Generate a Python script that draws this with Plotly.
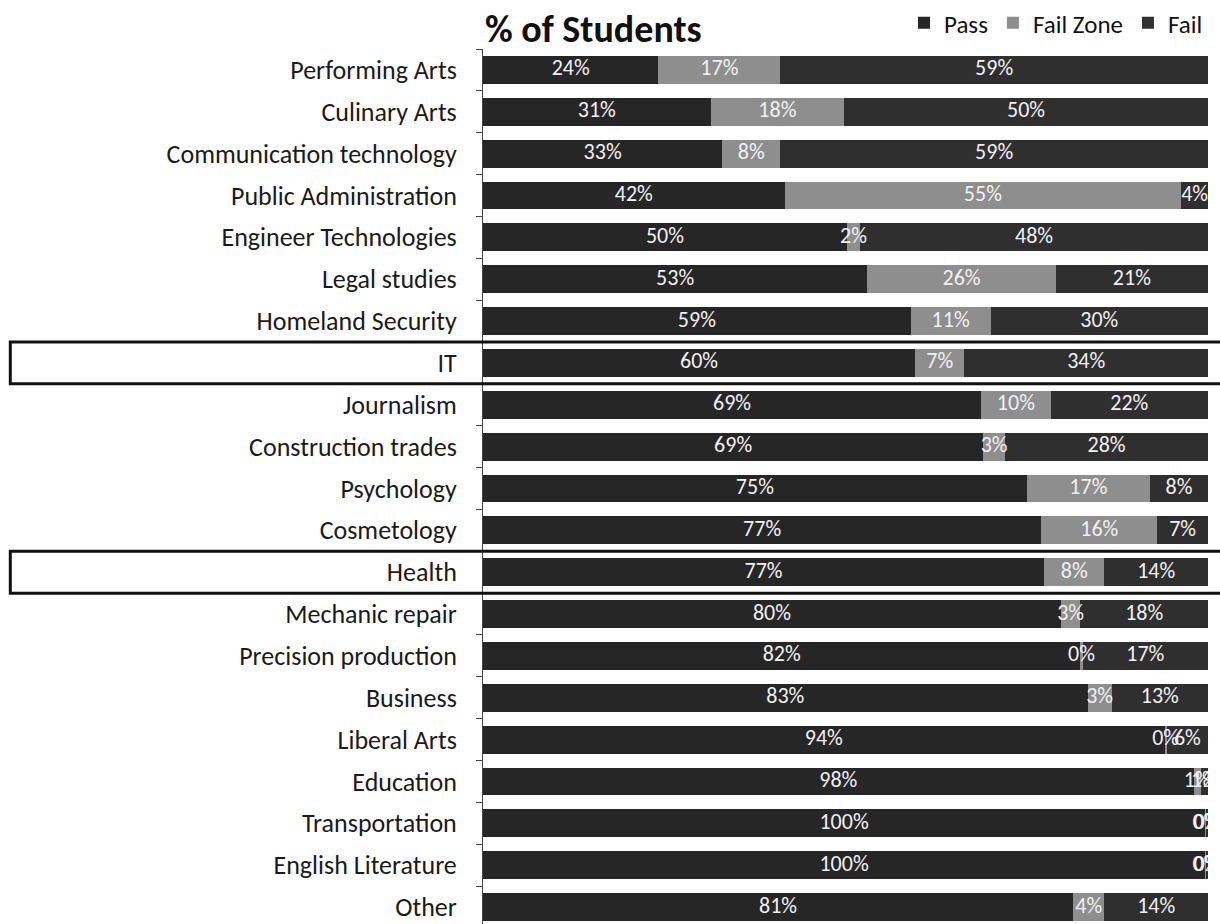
import plotly.graph_objects as go

# Programmes, top to bottom
categories = [
    "Performing Arts", "Culinary Arts", "Communication technology",
    "Public Administration", "Engineer Technologies", "Legal studies",
    "Homeland Security", "IT", "Journalism", "Construction trades",
    "Psychology", "Cosmetology", "Health", "Mechanic repair",
    "Precision production", "Business", "Liberal Arts", "Education",
    "Transportation", "English Literature", "Other",
]

# Share of students (%) in each outcome group
pass_pct = [24.2, 31.4, 33.0, 41.6, 50.2, 53.0, 59.0, 59.6, 68.7, 69.0, 75.0,
            77.0, 77.4, 79.7, 82.4, 83.4, 94.0, 98.0, 99.6, 99.6, 81.4]
fail_zone_pct = [16.8, 18.4, 8.0, 54.7, 1.8, 26.0, 11.0, 6.8, 9.6, 3.0, 17.0,
                 16.0, 8.3, 2.7, 0.3, 3.3, 0.3, 1.0, 0.2, 0.2, 4.3]
fail_pct = [59.0, 50.2, 59.0, 3.7, 48.0, 21.0, 30.0, 33.6, 21.7, 28.0, 8.0,
            7.0, 14.3, 17.6, 17.3, 13.3, 5.7, 1.0, 0.2, 0.2, 14.3]

highlighted = ["IT", "Health"]

series = [
    ("Pass", pass_pct, "#262626"),
    ("Fail Zone", fail_zone_pct, "#8e8e8e"),
    ("Fail", fail_pct, "#2f2f2f"),
]

FONT = "Carlito, Calibri, Lato, sans-serif"

fig = go.Figure()
for name, vals, color in series:
    fig.add_trace(go.Bar(
        y=categories, x=vals, name=name, orientation="h",
        marker=dict(color=color, line=dict(width=0)),
        hoverinfo="x+y+name",
    ))

# Value labels centred on each segment, drawn above all bars
offsets = [0.0] * len(categories)
for name, vals, color in series:
    mids = [o + v / 2 for o, v in zip(offsets, vals)]
    fig.add_trace(go.Scatter(
        x=mids, y=categories, mode="text",
        text=[f"{v:.0f}%" for v in vals],
        textposition="middle center",
        textfont=dict(family=FONT, size=22, color="#f0f0f0"),
        showlegend=False, hoverinfo="skip", cliponaxis=True,
    ))
    offsets = [o + v for o, v in zip(offsets, vals)]

# Frames around highlighted rows
for cat in highlighted:
    idx = categories.index(cat)
    fig.add_shape(
        type="rect", xref="paper", yref="y",
        x0=-0.652, x1=1.05, y0=idx - 0.5, y1=idx + 0.5,
        line=dict(color="#111111", width=3), fillcolor="rgba(0,0,0,0)",
        layer="above",
    )

fig.add_annotation(
    text="<b>% of Students</b>", xref="paper", yref="paper",
    x=0, y=1.0228, xanchor="left", yanchor="middle", showarrow=False,
    font=dict(family=FONT, size=38, color="#111111"),
)

n = len(categories)
fig.update_layout(
    width=1220, height=924,
    margin=dict(l=483, r=12, t=46, b=0, pad=0),
    paper_bgcolor="white", plot_bgcolor="white",
    barmode="stack", bargap=0.333,
    showlegend=True,
    legend=dict(
        orientation="h", x=1.0, xanchor="right", y=1.03, yanchor="middle",
        traceorder="normal", font=dict(family=FONT, size=25, color="#111111"),
        bgcolor="rgba(0,0,0,0)", itemwidth=30, tracegroupgap=0,
    ),
    xaxis=dict(range=[0, 100], visible=False, fixedrange=True),
    yaxis=dict(
        type="category", categoryorder="array", categoryarray=categories,
        range=[n - 0.5 - 0.095, -0.5],
        showline=True, linecolor="#444444", linewidth=1,
        ticks="outside", tickson="boundaries", ticklen=6, tickcolor="#444444",
        ticklabelstandoff=20,
        tickfont=dict(family=FONT, size=26, color="#1a1a1a"),
        showgrid=False, zeroline=False,
    ),
    font=dict(family=FONT),
)

fig.write_html("out.html")
